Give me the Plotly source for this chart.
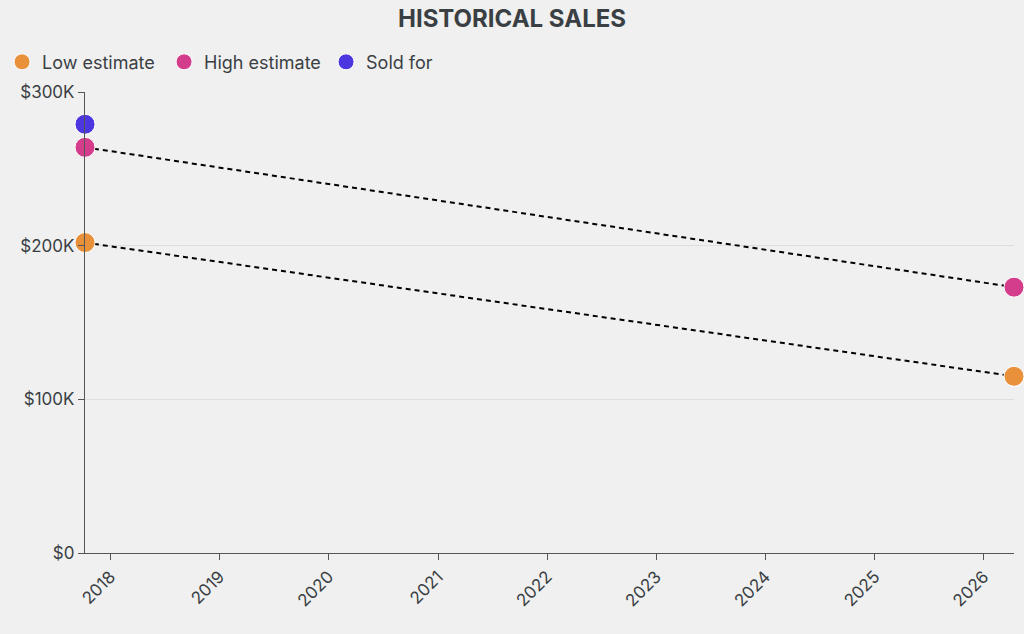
import plotly.graph_objects as go

dates = ["2017-10-08", "2026-04-12"]
low_estimate = [202000, 115000]
high_estimate = [264000, 173000]
sold_date = ["2017-10-08"]
sold_for = [279000]

series_names = ["Low estimate", "High estimate", "Sold for"]
colors = ["#E8903A", "#D43C8C", "#4B36DF"]

FONT = "Inter"
fig = go.Figure()

for ys in (low_estimate, high_estimate):
    fig.add_trace(go.Scatter(x=dates, y=ys, mode="lines",
                             line=dict(color="black", width=2, dash="5px,4px"),
                             showlegend=False, hoverinfo="skip"))

for name, xs, ys, c in [(series_names[0], dates, low_estimate, colors[0]),
                        (series_names[1], dates, high_estimate, colors[1]),
                        (series_names[2], sold_date, sold_for, colors[2])]:
    fig.add_trace(go.Scatter(x=xs, y=ys, mode="markers", name=name,
                             marker=dict(color=c, size=20, line=dict(color="white", width=1)),
                             cliponaxis=False))

fig.update_layout(
    width=1024, height=634,
    paper_bgcolor="#f0f0f0", plot_bgcolor="#f0f0f0",
    font=dict(family=FONT, size=18, color="#3a3f44"),
    margin=dict(l=85, r=10, t=92, b=81, autoexpand=False),
    title=dict(text="<b>HISTORICAL SALES</b>", x=0.5, xref="container", xanchor="center",
               y=0.971, yref="container", yanchor="middle",
               font=dict(size=24, color="#3a3f44", family=FONT)),
    legend=dict(orientation="h", xref="container", yref="container", x=0.002, y=0.902,
                xanchor="left", yanchor="middle", font=dict(size=18),
                itemsizing="trace", entrywidth=117, entrywidthmode="pixels",
                bgcolor="rgba(0,0,0,0)"),
    showlegend=True,
    xaxis=dict(type="date", range=[dates[0], dates[1]], showgrid=False,
               showline=True, linecolor="#555", linewidth=1.2,
               ticks="outside", ticklen=6, tickcolor="#555",
               tickangle=-45, dtick="M12", tick0="2018-01-01", tickformat="%Y",
               zeroline=False, tickfont=dict(size=17)),
    yaxis=dict(range=[0, 300000], tickvals=[0, 100000, 200000, 300000],
               ticktext=["$0", "$100K", "$200K", "$300K"],
               showgrid=True, gridcolor="#dedede", gridwidth=1,
               showline=True, linecolor="#555", linewidth=1.2,
               ticks="outside", ticklen=6, tickcolor="#555", zeroline=False,
               tickfont=dict(size=17)),
)

fig.write_html("out.html", config={"displayModeBar": False},
               post_script="document.body.style.margin='0';")
